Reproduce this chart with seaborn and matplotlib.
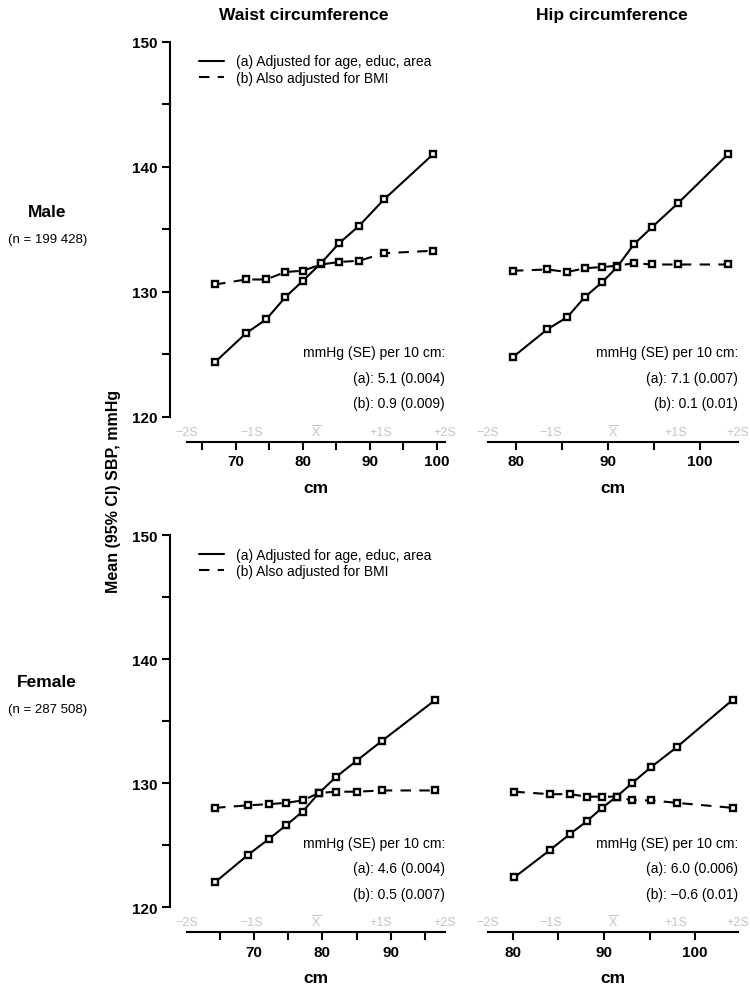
import numpy as np
import pandas as pd
import matplotlib
matplotlib.use('Agg')
import matplotlib.pyplot as plt
from matplotlib.lines import Line2D
import seaborn as sns

# values (cm, mmHg)
waist_male_cm = [66.9, 71.5, 74.5, 77.4, 80.0, 82.7, 85.4, 88.4, 92.1, 99.4]
waist_male_a = [124.4, 126.7, 127.8, 129.6, 130.9, 132.3, 133.9, 135.3, 137.4, 141.0]
waist_male_b = [130.6, 131.0, 131.0, 131.6, 131.7, 132.2, 132.4, 132.5, 133.1, 133.3]

hip_male_cm = [79.7, 83.4, 85.6, 87.5, 89.4, 91.0, 92.8, 94.8, 97.6, 103.0]
hip_male_a = [124.8, 127.0, 128.0, 129.6, 130.8, 132.0, 133.8, 135.2, 137.1, 141.0]
hip_male_b = [131.7, 131.8, 131.6, 131.9, 132.0, 132.1, 132.3, 132.2, 132.2, 132.2]

waist_female_cm = [64.3, 69.1, 72.2, 74.7, 77.1, 79.5, 82.0, 85.0, 88.7, 96.5]
waist_female_a = [122.0, 124.2, 125.5, 126.6, 127.7, 129.2, 130.5, 131.8, 133.4, 136.7]
waist_female_b = [128.0, 128.2, 128.3, 128.4, 128.6, 129.2, 129.3, 129.3, 129.4, 129.4]

hip_female_cm = [80.2, 84.1, 86.3, 88.1, 89.8, 91.4, 93.1, 95.2, 98.0, 104.1]
hip_female_a = [122.4, 124.6, 125.9, 126.9, 128.0, 128.9, 130.0, 131.3, 132.9, 136.7]
hip_female_b = [129.3, 129.1, 129.1, 128.9, 128.9, 128.9, 128.6, 128.6, 128.4, 128.0]

# mean and SD of each measure (axis runs from -2S to +2S)
dist_mean = {'waist_male': 81.95, 'hip_male': 90.55, 'waist_female': 79.05, 'hip_female': 91.0}
dist_sd = {'waist_male': 9.63, 'hip_male': 6.78, 'waist_female': 9.43, 'hip_female': 6.85}

slopes = {'waist_male': ['5.1 (0.004)', '0.9 (0.009)'],
          'hip_male': ['7.1 (0.007)', '0.1 (0.01)'],
          'waist_female': ['4.6 (0.004)', '0.5 (0.007)'],
          'hip_female': ['6.0 (0.006)', '\u22120.6 (0.01)']}

sd_labels = ['\u22122S', '\u22121S', r'$\overline{\mathrm{X}}$', '+1S', '+2S']
legend_labels = ['(a) Adjusted for age, educ, area', '(b) Also adjusted for BMI']

sns.set_style('ticks')
plt.rcParams['font.family'] = ['Liberation Sans', 'DejaVu Sans']
plt.rcParams['mathtext.fontset'] = 'custom'
plt.rcParams['mathtext.rm'] = 'Liberation Sans'
for key in ['text.color', 'axes.labelcolor', 'xtick.color', 'ytick.color', 'axes.edgecolor']:
    plt.rcParams[key] = 'black'

DASH = (0, (5, 4))


def draw_panel(ax, key, cm, a, b, first_col, legend):
    df = pd.DataFrame({'cm': cm, 'a': a, 'b': b})
    mk = dict(marker='s', ms=5, mfc='white', mec='black', mew=1.7, color='black', lw=1.5)
    sns.lineplot(data=df, x='cm', y='b', ax=ax, linestyle=DASH, **mk)
    sns.lineplot(data=df, x='cm', y='a', ax=ax, linestyle='-', **mk)

    # spines first: moving a spine resets its ticks
    for sp in ['top', 'right']:
        ax.spines[sp].set_visible(False)
    ax.spines['bottom'].set_position(('outward', 18))
    ax.spines['bottom'].set_linewidth(1.5)
    if first_col:
        ax.spines['left'].set_position(('outward', 12))
        ax.spines['left'].set_linewidth(1.5)
    else:
        ax.spines['left'].set_visible(False)

    m, s = dist_mean[key], dist_sd[key]
    x0, x1 = m - 2 * s, m + 2 * s
    ax.set_xlim(x0, x1)
    ax.set_ylim(120, 150)

    ax.tick_params(axis='x', length=6, width=1.5, pad=3)
    xt = np.arange(np.ceil(x0 / 5) * 5, x1, 5)
    ax.set_xticks(xt)
    ax.set_xticklabels([str(int(v)) if v % 10 == 0 else '' for v in xt],
                       fontweight='bold', fontsize=11)
    ax.set_xlabel('cm', fontweight='bold', fontsize=12.5, labelpad=8)
    ax.set_ylabel('')

    if first_col:
        ax.tick_params(axis='y', length=6, width=1.5, pad=3)
        yt = np.arange(120, 151, 5)
        ax.set_yticks(yt)
        ax.set_yticklabels([str(v) if v % 10 == 0 else '' for v in yt],
                           fontweight='bold', fontsize=11)
    else:
        ax.tick_params(axis='y', left=False, labelleft=False)

    for k, lab in enumerate(sd_labels):
        ax.annotate(lab, xy=(m + (k - 2) * s, 0), xycoords=('data', 'axes fraction'),
                    xytext=(0, -10.5), textcoords='offset points',
                    ha='center', va='center', fontsize=9, color='#c4c4c4')

    ax.text(1.0, 0.172, 'mmHg (SE) per 10 cm:', transform=ax.transAxes,
            ha='right', va='center', fontsize=10)
    ax.text(1.0, 0.105, '(a): ' + slopes[key][0], transform=ax.transAxes,
            ha='right', va='center', fontsize=10)
    ax.text(1.0, 0.036, '(b): ' + slopes[key][1], transform=ax.transAxes,
            ha='right', va='center', fontsize=10)

    if legend:
        handles = [Line2D([], [], color='black', lw=1.5),
                   Line2D([], [], color='black', lw=1.5, linestyle=DASH)]
        ax.legend(handles, legend_labels, loc='upper left', bbox_to_anchor=(0.0, 1.0),
                  frameon=False, fontsize=10, handlelength=1.8, handletextpad=0.8,
                  labelspacing=0.15, borderaxespad=0.5)


fig = plt.figure(figsize=(7.5, 9.95), dpi=100)
ax_tl = fig.add_axes([0.2493, 0.5799, 0.344, 0.3769])
ax_tr = fig.add_axes([0.6507, 0.5799, 0.3333, 0.3769])
ax_bl = fig.add_axes([0.2493, 0.0874, 0.344, 0.3739])
ax_br = fig.add_axes([0.6507, 0.0874, 0.3333, 0.3739])

draw_panel(ax_tl, 'waist_male', waist_male_cm, waist_male_a, waist_male_b, True, True)
draw_panel(ax_tr, 'hip_male', hip_male_cm, hip_male_a, hip_male_b, False, False)
draw_panel(ax_bl, 'waist_female', waist_female_cm, waist_female_a, waist_female_b, True, True)
draw_panel(ax_br, 'hip_female', hip_female_cm, hip_female_a, hip_female_b, False, False)

fig.text(0.405, 0.984, 'Waist circumference', ha='center', va='center',
         fontweight='bold', fontsize=12.5)
fig.text(0.816, 0.984, 'Hip circumference', ha='center', va='center',
         fontweight='bold', fontsize=12.5)

fig.text(0.063, 0.786, 'Male', ha='center', va='center', fontweight='bold', fontsize=12.5)
fig.text(0.063, 0.759, '(n = 199 428)', ha='center', va='center', fontsize=9.5)
fig.text(0.063, 0.314, 'Female', ha='center', va='center', fontweight='bold', fontsize=12.5)
fig.text(0.063, 0.286, '(n = 287 508)', ha='center', va='center', fontsize=9.5)

fig.text(0.151, 0.506, 'Mean (95% CI) SBP, mmHg', rotation=90, ha='center', va='center',
         fontweight='bold', fontsize=11.5)

fig.savefig('out.png', dpi=100)
